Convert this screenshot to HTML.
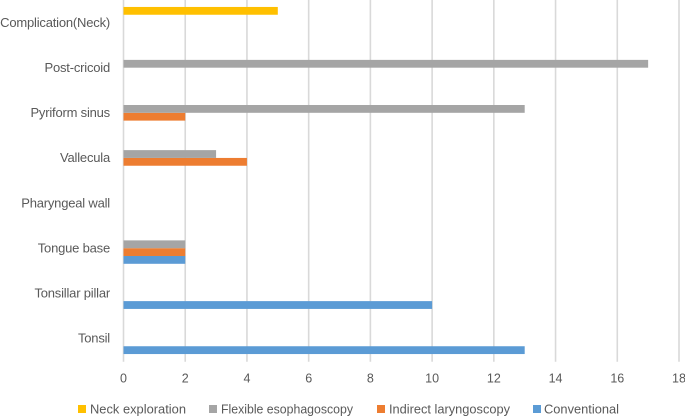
<!DOCTYPE html>
<html>
<head>
<meta charset="utf-8">
<style>
html,body{margin:0;padding:0;background:#fff;width:685px;height:416px;overflow:hidden}
svg{display:block}
text{font-family:"Liberation Sans",sans-serif;fill:#595959;font-size:13px}
#ylabels text{letter-spacing:-0.2px}
#xlabels text{font-size:12.5px}
</style>
</head>
<body>
<svg id="chart" width="685" height="416" viewBox="0 0 685 416" xmlns="http://www.w3.org/2000/svg">
  <g id="grid"></g>
  <g id="bars"></g>
  <g id="ylabels"></g>
  <g id="xlabels"></g>
  <g id="legend">
    <g>
      <rect x="78" y="405" width="8" height="8" fill="#ffc000"></rect>
      <text x="90" y="413.5" textLength="96" lengthAdjust="spacingAndGlyphs">Neck exploration</text>
    </g>
    <g>
      <rect x="209" y="405" width="8" height="8" fill="#a5a5a5"></rect>
      <text x="221" y="413.5" textLength="132" lengthAdjust="spacingAndGlyphs">Flexible esophagoscopy</text>
    </g>
    <g>
      <rect x="377" y="405" width="8" height="8" fill="#ed7d31"></rect>
      <text x="389" y="413.5" textLength="121" lengthAdjust="spacingAndGlyphs">Indirect laryngoscopy</text>
    </g>
    <g>
      <rect x="533" y="405" width="8" height="8" fill="#5b9bd5"></rect>
      <text x="544" y="413.5" textLength="75" lengthAdjust="spacingAndGlyphs">Conventional</text>
    </g>
  </g>
</svg>
<script>
const categories = ["Tonsil","Tonsillar pillar","Tongue base","Pharyngeal wall","Vallecula","Pyriform sinus","Post-cricoid","Complication(Neck)"];
const conventional = [13,10,2,0,0,0,0,0];
const indirectLaryngoscopy = [0,0,2,0,4,2,0,0];
const flexibleEsophagoscopy = [0,0,2,0,3,13,17,0];
const neckExploration = [0,0,0,0,0,0,0,5];
const xTicks = [0,2,4,6,8,10,12,14,16,18];

const NS = "http://www.w3.org/2000/svg";
const plotLeft = 123.5, plotRight = 679, plotTop = 0, plotBottom = 361, xMax = 18;
const xScale = v => plotLeft + v * (plotRight - plotLeft) / xMax;
const bandH = (plotBottom - plotTop) / categories.length;
const bandY = i => plotBottom - (i + 1) * bandH;
const barH = bandH * 0.173;
const seriesList = [
  {key:"conventional", values:conventional, color:"#5b9bd5"},
  {key:"indirect-laryngoscopy", values:indirectLaryngoscopy, color:"#ed7d31"},
  {key:"flexible-esophagoscopy", values:flexibleEsophagoscopy, color:"#a5a5a5"},
  {key:"neck-exploration", values:neckExploration, color:"#ffc000"}
];

function make(tag, attrs, parent, txt){
  const el = document.createElementNS(NS, tag);
  for (const k in attrs) el.setAttribute(k, attrs[k]);
  if (txt !== undefined) el.textContent = txt;
  parent.appendChild(el);
  return el;
}

const gGrid = document.getElementById("grid");
const gBars = document.getElementById("bars");
const gY = document.getElementById("ylabels");
const gX = document.getElementById("xlabels");

xTicks.forEach(t => {
  const line = make("line", {x1:xScale(t), x2:xScale(t), y1:plotTop, y2:plotBottom + 0.7, stroke:"#d9d9d9", "stroke-width":1.6}, gGrid);
  
  
  const label = make("text", {x:xScale(t), y:382.5, "text-anchor":"middle"}, gX, String(t));
  
  
});

categories.forEach((c, i) => {
  const label = make("text", {x:110, y:bandY(i) + bandH / 2 + 4.2, "text-anchor":"end"}, gY, c);
  
  
  const groupTop = bandY(i) + bandH / 2 - 2 * barH;
  seriesList.forEach((s, j) => {
    const v = s.values[i];
    if (!v) return;
    const bar = make("rect", {
      x: xScale(0),
      y: groupTop + (3 - j) * barH,
      width: xScale(v) - xScale(0),
      height: barH,
      fill: s.color
    }, gBars);
    
    
  });
});
</script>
</body>
</html>
